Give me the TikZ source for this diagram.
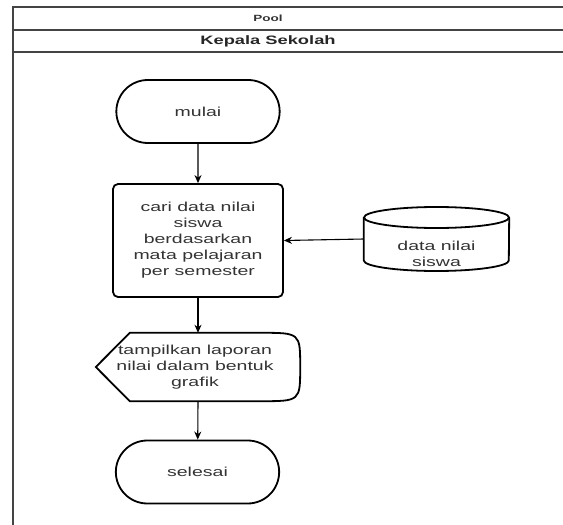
\documentclass[tikz,border=0pt]{standalone}
\usepackage{fontspec}
\setmainfont{Liberation Sans}[FakeStretch=1.5]
\usetikzlibrary{shapes.misc,arrows.meta}
\definecolor{txtgray}{HTML}{333333}
\definecolor{framegray}{HTML}{444444}
\begin{document}
\begin{tikzpicture}[x=1pt,y=-1pt,
    terminal/.style={draw,line width=1.8pt,rounded rectangle,minimum width=170pt,minimum height=63pt,text=txtgray,font=\fontsize{13}{16}\selectfont},
    process/.style={draw,line width=1.8pt,rounded corners=5pt,minimum width=170pt,minimum height=113pt,text=txtgray,align=center,font=\fontsize{13}{16}\selectfont},
    label/.style={text=txtgray,align=center,font=\fontsize{13}{16}\selectfont},
    flow/.style={-{Stealth[length=8pt,width=7pt,inset=2.5pt]},line width=1.1pt}]
  \useasboundingbox (0,0) rectangle (563,525);
  \clip (0,0) rectangle (563,525);
  % pool and lane
  \draw[framegray,line width=1.5pt] (563,7) -- (13,7) -- (13,526);
  \draw[framegray,line width=1.5pt] (13,30) -- (563,30);
  \draw[framegray,line width=1.5pt] (13,52) -- (563,52);
  \node[font=\bfseries\fontsize{9}{11}\selectfont,text=txtgray] at (268,18.5) (pool) {Pool};
  \node[font=\bfseries\fontsize{12.2}{15}\selectfont,text=black!85] at (268,41) (lane) {Kepala Sekolah};
  % flow
  \node[terminal] at (198,111.5) (mulai) {mulai};
  \node[process] at (198,240.5) (cari) {cari data nilai\\siswa\\berdasarkan\\mata pelajaran\\per semester};
  \node[minimum width=145pt,minimum height=65pt,inner sep=0pt] at (436.5,239) (db) {};
  \draw[line width=1.8pt] (db.west |- 0,217.5) -- (db.west |- 0,260.5)
    arc[start angle=180,end angle=360,x radius=72.5pt,y radius=10.5pt] -- (db.east |- 0,217.5);
  \draw[line width=1.8pt] (436.5,217.5) ellipse[x radius=72.5pt,y radius=10.5pt];
  \node[label] at (436.5,254) (dbtext) {data nilai\\siswa};
  \node[minimum width=204pt,minimum height=68pt,inner sep=0pt] at (198,367) (tampil) {};
  \draw[line width=1.8pt] (tampil.west) -- ([xshift=34pt]tampil.north west) -- ([xshift=-40pt]tampil.north east)
    .. controls (tampil.north east) and (tampil.north east) .. (tampil.east)
    .. controls (tampil.south east) and (tampil.south east) .. ([xshift=-40pt]tampil.south east)
    -- ([xshift=34pt]tampil.south west) -- cycle;
  \node[label] at (195,367) (tampiltext) {tampilkan laporan\\nilai dalam bentuk\\grafik};
  \node[terminal] at (197.5,472) (selesai) {selesai};
  \path[flow] (mulai) edge (cari);
  \path[flow] (cari) edge (tampil.north);
  \path[flow] (tampil.south) edge (selesai);
  \path[flow] (db.west) edge (cari.east);
\end{tikzpicture}
\end{document}
